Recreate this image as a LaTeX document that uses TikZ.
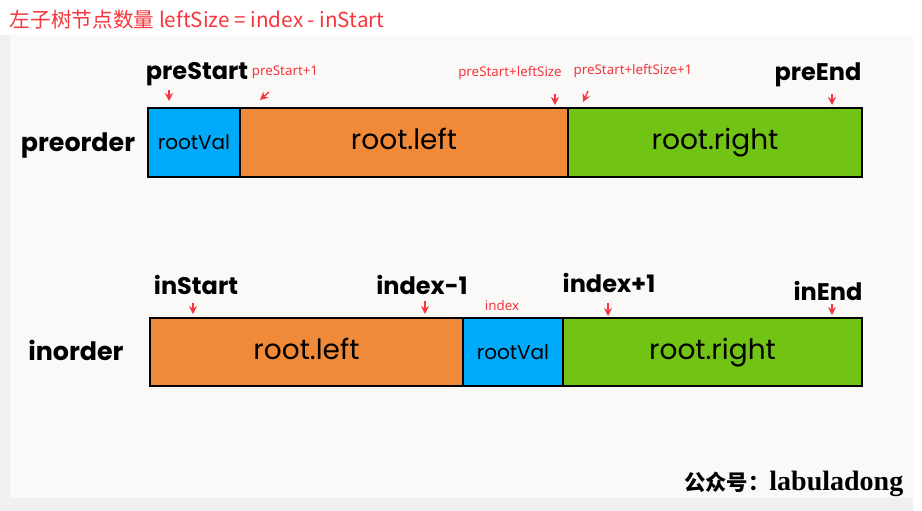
\documentclass[tikz,border=0pt]{standalone}
\usepackage{fontspec}
\setmainfont{Noto Sans}
\newfontfamily\cjk{Noto Sans CJK SC}
\newfontfamily\hand{Poppins}
\newfontfamily\wmserif{Liberation Serif}
\usetikzlibrary{positioning,arrows.meta}

\definecolor{rootblue}{RGB}{0,170,250}
\definecolor{leftorange}{RGB}{240,137,56}
\definecolor{rightgreen}{RGB}{113,196,20}
\definecolor{markred}{RGB}{245,54,62}
\definecolor{paper}{RGB}{250,249,247}
\definecolor{edgegray}{RGB}{240,240,240}

\tikzset{
  cell/.style={draw=black, line width=1.6pt, inner sep=0pt, outer sep=0pt,
    text height=15pt, text depth=4pt,
    font=\hand\fontsize{21}{24}\selectfont},
  tag/.style={font=\hand\bfseries\fontsize{18}{21}\selectfont},
  redtag/.style={text=markred, font=\fontsize{10}{12}\selectfont},
  pointer/.style={draw=markred, line width=1pt, -{Stealth[length=6pt,width=6pt]}},
}

\begin{document}
\begin{tikzpicture}[x=0.75pt, y=-0.75pt]
    % background
    \fill[edgegray] (0,0) rectangle (922,511);
    \fill[white] (0,0) rectangle (922,35);
    \fill[white] (913,0) rectangle (922,511);
    \fill[paper] (10,35) rectangle (913,498);
    \useasboundingbox (0,0) rectangle (922,511);

    % title
    \node[anchor=west, text=markred, font=\cjk\fontsize{15.5}{18}\selectfont] (title) at (5,20) {左子树节点数量 leftSize = index - inStart};

    % preorder
    \node[font=\hand\bfseries\fontsize{19}{22}\selectfont] (prelabel) at (78,145) {preorder};
    \node[cell, fill=rootblue, minimum width={92*0.75pt}, minimum height={69*0.75pt}, font=\hand\fontsize{15}{18}\selectfont] (prerv) at (194,142.5) {rootVal};
    \node[cell, fill=leftorange, minimum width={328*0.75pt}, minimum height={69*0.75pt}, right=0pt of prerv] (preleft) {root.left};
    \node[cell, fill=rightgreen, minimum width={294*0.75pt}, minimum height={69*0.75pt}, right=0pt of preleft] (preright) {root.right};

    \node[tag] (prestart) at (197,74) {preStart};
    \node[redtag] (prestart1) at (285,72) {preStart+1};
    \node[redtag] (prels) at (510,73) {preStart+leftSize};
    \node[redtag] (prels1) at (633,71) {preStart+leftSize+1};
    \node[tag] (preend) at (818,75) {preEnd};

    \coordinate (p1) at (169,90);
    \coordinate (p2) at (269,92);
    \coordinate (p3) at (555,94);
    \coordinate (p4) at (588,91);
    \coordinate (p5) at (832,94);
    \draw[pointer] (p1) -- ++(0,11);
    \draw[pointer] (p2) -- ++(-9,8);
    \draw[pointer] (p3) -- ++(0,11);
    \draw[pointer] (p4) -- ++(-5,11);
    \draw[pointer] (p5) -- ++(0,11);

    % inorder
    \node[font=\hand\bfseries\fontsize{19}{22}\selectfont] (inlabel) at (76,350) {inorder};
    \node[cell, fill=leftorange, minimum width={313*0.75pt}, minimum height={68*0.75pt}] (inleft) at (306.5,352) {root.left};
    \node[cell, fill=rootblue, minimum width={100*0.75pt}, minimum height={68*0.75pt}, right=0pt of inleft, font=\hand\fontsize{15}{18}\selectfont] (inrv) {rootVal};
    \node[cell, fill=rightgreen, minimum width={299*0.75pt}, minimum height={68*0.75pt}, right=0pt of inrv] (inright) {root.right};

    \node[tag] (instart) at (196,285) {inStart};
    \node[tag] (indexm) at (422,285) {index-1};
    \node[redtag] (index) at (502,305) {index};
    \node[tag] (indexp) at (609,283) {index+1};
    \node[tag] (inend) at (828,291) {inEnd};

    \coordinate (q1) at (193,303);
    \coordinate (q2) at (425,301);
    \coordinate (q3) at (608,303);
    \coordinate (q4) at (832,304);
    \draw[pointer] (q1) -- ++(0,11);
    \draw[pointer] (q2) -- ++(0,13);
    \draw[pointer] (q3) -- ++(0,13);
    \draw[pointer] (q4) -- ++(0,11);

    % watermark
    \node[anchor=east, font=\bfseries] (wm) at (908,484) {{\cjk\fontsize{16}{19}\selectfont 公众号：}{\wmserif\fontsize{21}{25}\selectfont labuladong}};
\end{tikzpicture}
\end{document}
